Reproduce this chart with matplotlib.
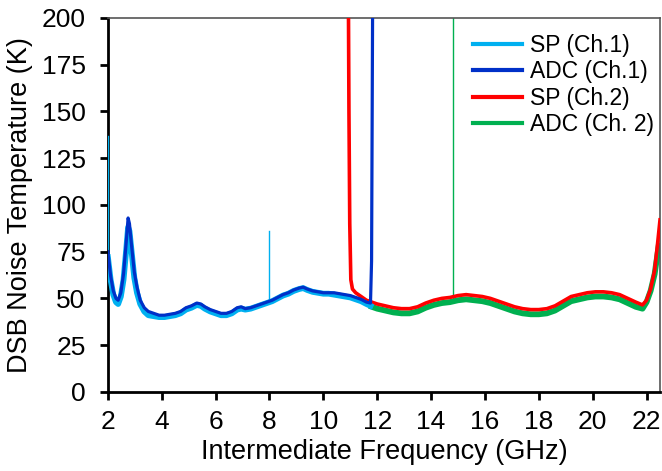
import matplotlib
matplotlib.use("Agg")
import matplotlib.pyplot as plt

plt.rcParams['font.family'] = ['Liberation Sans', 'DejaVu Sans']
nan = float('nan')

# ---- data ----
adc1_f = [2.0, 2.1, 2.2, 2.3, 2.38, 2.48, 2.58, 2.68, 2.75, 2.8, 2.88, 2.98, 3.08, 3.2, 3.35,
          3.5, 3.7, 3.9, 4.1, 4.3, 4.5, 4.7, 4.9, 5.1, 5.3, 5.45, 5.6, 5.8, 6.0, 6.2, 6.4,
          6.6, 6.8, 6.95, 7.1, 7.3, 7.5, 7.7, 7.9, 8.1, 8.3, 8.5, 8.7, 8.9, 9.1, 9.25, 9.4,
          9.6, 9.8, 10.0, 10.2, 10.4, 10.6, 10.8, 11.0, 11.2, 11.4, 11.6, 11.75, 11.79, 11.81, 11.83]
adc1_v = [75, 62, 54, 50, 49, 53, 63, 80, 93, 90, 78, 64, 56, 49, 45,
          43, 42, 41, 41, 41.5, 42, 43, 45, 46, 47.5, 47, 45.5, 44, 43, 42, 42,
          43, 45, 45.5, 44.5, 45, 46, 47, 48, 49, 50.5, 52, 53, 54.5, 55.5, 56, 55,
          54, 53.5, 53, 53, 53, 52.5, 52, 51.5, 50.5, 49.5, 48, 47.5, 70, 140, 210]

sp1_f = [2.0, 2.1, 2.2, 2.3, 2.38, 2.48, 2.58, 2.68, 2.75, 2.8, 2.88, 2.98, 3.08, 3.2, 3.35,
         3.5, 3.7, 3.9, 4.1, 4.3, 4.5, 4.7, 4.9, 5.1, 5.3, 5.45, 5.6, 5.8, 6.0, 6.2, 6.4,
         6.6, 6.8, 6.95, 7.1, 7.3, 7.5, 7.7, 7.9, 8.1, 8.3, 8.5, 8.7, 8.9, 9.1, 9.25, 9.4,
         9.6, 9.8, 10.0, 10.2, 10.4, 10.6, 10.8, 11.0, 11.2, 11.4, 11.6, 11.75]
sp1_v = [72, 60, 52, 48, 47, 51, 60, 76, 88, 86, 75, 61, 53, 47, 43,
         41, 40.5, 40, 40, 40.5, 41, 42, 44, 45, 46.5, 46, 44.5, 43, 42, 41, 41,
         42, 44, 44.5, 44, 44.5, 45.5, 46.5, 47.5, 48.5, 50, 51.5, 52.5, 54, 55, 55.5, 54.5,
         53.5, 53, 52.5, 52.5, 52, 51.5, 51, 50.5, 49.5, 48.5, 47, 46]

sp1_spike_f = [2.0, 2.0, nan, 8.0, 8.0]
sp1_spike_v = [70, 137, nan, 48, 86]

sp2_f = [10.93, 10.95, 10.98, 11.02, 11.08, 11.2, 11.4, 11.6, 11.8, 12.0, 12.3, 12.6, 12.9,
         13.2, 13.5, 13.8, 14.1, 14.4, 14.7, 15.0, 15.3, 15.6, 15.9, 16.2, 16.5, 16.8, 17.1,
         17.4, 17.7, 18.0, 18.3, 18.6, 18.9, 19.2, 19.5, 19.8, 20.1, 20.4, 20.7, 21.0, 21.3,
         21.6, 21.85, 22.0, 22.15, 22.3, 22.4, 22.5]
sp2_v = [210, 150, 90, 60, 55, 53, 51, 49, 48, 47, 46, 45, 44.5,
         44.5, 45.5, 47.5, 49, 50, 50.5, 51.5, 52, 51.5, 51, 50, 48.5, 47, 45.5,
         44.5, 44, 44, 44.5, 46, 48.5, 51, 52, 53, 53.5, 53.5, 53, 52, 50,
         48, 46.5, 49, 55, 65, 78, 92]

adc2_f = [11.8, 12.0, 12.3, 12.6, 12.9,
          13.2, 13.5, 13.8, 14.1, 14.4, 14.7, 15.0, 15.3, 15.6, 15.9, 16.2, 16.5, 16.8, 17.1,
          17.4, 17.7, 18.0, 18.3, 18.6, 18.9, 19.2, 19.5, 19.8, 20.1, 20.4, 20.7, 21.0, 21.3,
          21.6, 21.85, 22.0, 22.15, 22.3, 22.45]
adc2_v = [45.5, 44.5, 43.5, 42.5, 42,
          42, 43, 45, 46.5, 47.5, 48, 49, 49.5, 49, 48.5, 47.5, 46, 44.5, 43,
          42, 41.5, 41.5, 42, 43.5, 46, 48.5, 49.5, 50.5, 51, 51, 50.5, 49.5, 47.5,
          45.5, 44.5, 48, 54, 63, 78]

adc2_spike_f = [14.8, 14.8]
adc2_spike_v = [49, 210]

x_ticks = [2, 4, 6, 8, 10, 12, 14, 16, 18, 20, 22]
y_ticks = [0, 25, 50, 75, 100, 125, 150, 175, 200]
labels = ['SP (Ch.1)', 'ADC (Ch.1)', 'SP (Ch.2)', 'ADC (Ch. 2)']

c_sp1, c_adc1, c_sp2, c_adc2 = '#00B0F0', '#0030C8', '#FF0000', '#00B050'

fig = plt.figure(figsize=(6.62, 4.71), dpi=100)
ax = fig.add_axes([0.163, 0.168, 0.834, 0.794])

ax.plot(adc2_f, adc2_v, color=c_adc2, lw=4.2, zorder=2)
ax.plot(adc2_spike_f, adc2_spike_v, color=c_adc2, lw=1.0, zorder=2)
ax.plot(sp2_f, sp2_v, color=c_sp2, lw=2.6, zorder=3)
ax.plot(sp1_f, sp1_v, color=c_sp1, lw=4.2, zorder=4)
ax.plot(sp1_spike_f, sp1_spike_v, color=c_sp1, lw=1.0, zorder=4)
ax.plot(adc1_f, adc1_v, color=c_adc1, lw=2.3, zorder=5)

hs = [ax.plot([], [], color=c, lw=3)[0] for c in (c_sp1, c_adc1, c_sp2, c_adc2)]
ax.legend(hs, labels, loc='upper left', bbox_to_anchor=(0.662, 0.957),
          frameon=False, fontsize=16.5, handlelength=2.1, handletextpad=0.36,
          labelspacing=0.15, borderaxespad=0, borderpad=0)

ax.set_xlim(2, 22.5)
ax.set_ylim(0, 200)
ax.set_xticks(x_ticks)
ax.set_yticks(y_ticks)
ax.tick_params(axis='both', direction='out', length=6, width=2, labelsize=19)
ax.tick_params(axis='y', pad=10)
ax.tick_params(axis='x', pad=7)
ax.set_xlabel('Intermediate Frequency (GHz)', fontsize=19.5, labelpad=4)
ax.set_ylabel('DSB Noise Temperature (K)', fontsize=19.5, labelpad=6)

for s in ['left', 'bottom']:
    ax.spines[s].set_linewidth(2.0)
    ax.spines[s].set_color('black')
for s in ['top', 'right']:
    ax.spines[s].set_linewidth(1.2)
    ax.spines[s].set_color('#555555')

fig.savefig('out.png', dpi=100)
